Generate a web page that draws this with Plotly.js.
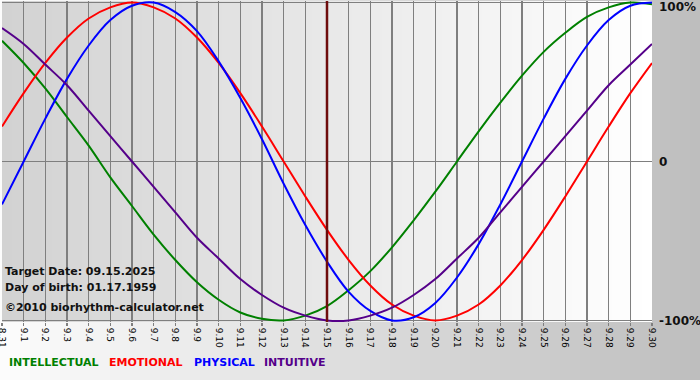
<!DOCTYPE html>
<html>
<head>
<meta charset="utf-8">
<script src="https://cdn.plot.ly/plotly-3.0.1.min.js"></script>
<style>
html,body{margin:0;padding:0;background:#fff;}
#chart{width:700px;height:380px;}
</style>
</head>
<body>
<div id="chart"></div>
<script>
// ---- data ----
var days = ['8.31','9.1','9.2','9.3','9.4','9.5','9.6','9.7','9.8','9.9','9.10','9.11','9.12','9.13','9.14','9.15',
            '9.16','9.17','9.18','9.19','9.20','9.21','9.22','9.23','9.24','9.25','9.26','9.27','9.28','9.29','9.30'];
var intellectual = [0.76,0.62,0.46,0.28,0.10,-0.10,-0.28,-0.46,-0.62,-0.76,-0.87,-0.95,-0.99,-1.00,-0.97,-0.91,
                    -0.81,-0.69,-0.54,-0.37,-0.19,0.00,0.19,0.37,0.54,0.69,0.81,0.91,0.97,1.00,0.99];
var emotional = [0.22,0.43,0.62,0.78,0.90,0.97,1.00,0.97,0.90,0.78,0.62,0.43,0.22,0.00,-0.22,-0.43,
                 -0.62,-0.78,-0.90,-0.97,-1.00,-0.97,-0.90,-0.78,-0.62,-0.43,-0.22,0.00,0.22,0.43,0.62];
var physical = [-0.27,0.00,0.27,0.52,0.73,0.89,0.98,1.00,0.94,0.82,0.63,0.40,0.14,-0.14,-0.40,-0.63,
                -0.82,-0.94,-1.00,-0.98,-0.89,-0.73,-0.52,-0.27,0.00,0.27,0.52,0.73,0.89,0.98,1.00];
var intuitive = [0.84,0.74,0.61,0.48,0.32,0.16,0.00,-0.16,-0.32,-0.48,-0.61,-0.74,-0.84,-0.92,-0.97,-1.00,
                 -1.00,-0.97,-0.92,-0.84,-0.74,-0.61,-0.48,-0.32,-0.16,0.00,0.16,0.32,0.48,0.61,0.74];
var seriesNames = ['INTELLECTUAL','EMOTIONAL','PHYSICAL','INTUITIVE'];
var seriesColors = ['#008000','#ff0000','#0000ff','#55008a'];
var yTickVals = [1, 0, -1];
var yTickText = ['100%', '0', '-100%'];
var targetDay = '9.15';
var infoLines = ['Target Date: 09.15.2025', 'Day of birth: 01.17.1959', '\u00a92010 biorhythm-calculator.net'];

// ---- layout geometry ----
var W = 700, H = 380;
var mL = 2, mR = 48, mT = 1, mB = 58;
var pW = W - mL - mR, pH = H - mT - mB;
function xp(px){ return (px - mL) / pW; }
function yp(py){ return (H - mB - py) / pH; }

var shapes = [];
// paper background gradient (white -> grey, left to right)
var N1 = 70;
for (var i = 0; i < N1; i++) {
  var t = (i + 0.5) / N1;
  var c = Math.round(252 - (252 - 190) * t);
  shapes.push({type:'rect', xref:'paper', yref:'paper', layer:'below',
    x0: xp(i * W / N1), x1: xp((i + 1) * W / N1 + 1), y0: yp(H + 1), y1: yp(-1),
    fillcolor:'rgb(' + c + ',' + c + ',' + c + ')', line:{width:0}});
}
// plot area gradient (grey -> white, left to right)
var N2 = 65;
for (var j = 0; j < N2; j++) {
  var t2 = (j + 0.5) / N2;
  var c2 = Math.round(210 + (255 - 210) * t2);
  shapes.push({type:'rect', xref:'paper', yref:'paper', layer:'below',
    x0: j / N2, x1: Math.min(1, (j + 1) / N2 + 0.002), y0: 0, y1: 1,
    fillcolor:'rgb(' + c2 + ',' + c2 + ',' + c2 + ')', line:{width:0}});
}
// target date marker (category index of the target day)
var targetIdx = days.indexOf(targetDay);
shapes.push({type:'line', xref:'x', yref:'paper', x0: targetIdx, x1: targetIdx, y0: 0, y1: 1,
  line:{color:'#6e0c0c', width:2.5}, layer:'above'});

var seriesData = [intellectual, emotional, physical, intuitive];
var traces = seriesData.map(function(vals, k){
  return {x: days, y: vals, type:'scatter', mode:'lines', name: seriesNames[k],
    line:{color: seriesColors[k], width: 2, shape:'spline', smoothing: 1},
    hoverinfo:'skip', showlegend:false};
});

var annotations = [];
// info text
var infoY = [271, 287, 307];
infoLines.forEach(function(s, k){
  annotations.push({xref:'paper', yref:'paper', x: xp(3), y: yp(infoY[k]), xanchor:'left', yanchor:'middle',
    text: '<b>' + s + '</b>', showarrow:false, font:{family:'DejaVu Sans', size:11, color:'#111'}});
});
// y labels on right
var yLabelPx = [7, 162, 321];
yTickText.forEach(function(s, k){
  annotations.push({xref:'paper', yref:'paper', x: xp(657), y: yp(yLabelPx[k]), xanchor:'left', yanchor:'middle',
    text: '<b>' + s + '</b>', showarrow:false, font:{family:'DejaVu Sans', size:12, color:'#111'}});
});
// series legend text
var legendX = [7, 107, 192, 262];
seriesNames.forEach(function(s, k){
  annotations.push({xref:'paper', yref:'paper', x: xp(legendX[k]), y: yp(362), xanchor:'left', yanchor:'middle',
    text: '<b>' + s + '</b>', showarrow:false, font:{family:'DejaVu Sans', size:11, color: seriesColors[k]}});
});

var layout = {
  width: W, height: H,
  margin: {l: mL, r: mR, t: mT, b: mB, pad: 0},
  paper_bgcolor: '#e0e0e0',
  plot_bgcolor: 'rgba(0,0,0,0)',
  showlegend: false,
  xaxis: {type:'category', range:[0, 30], tickangle: 90, showgrid:true, gridcolor:'#7f7f7f', gridwidth:1.5,
    zeroline:false, showline:false, ticks:'outside', ticklen:3, tickcolor:'#7f7f7f', tickwidth:1.5,
    tickfont:{family:'DejaVu Sans', size:9, color:'#000'}, fixedrange:true},
  yaxis: {range:[-1.01, 1.01], tickvals: yTickVals, ticktext: yTickText, showticklabels:false,
    showgrid:true, gridcolor:'#7f7f7f', gridwidth:1.5, zeroline:false, showline:false, fixedrange:true},
  shapes: shapes,
  annotations: annotations
};

Plotly.newPlot('chart', traces, layout, {staticPlot:true, displayModeBar:false});
</script>
</body>
</html>
